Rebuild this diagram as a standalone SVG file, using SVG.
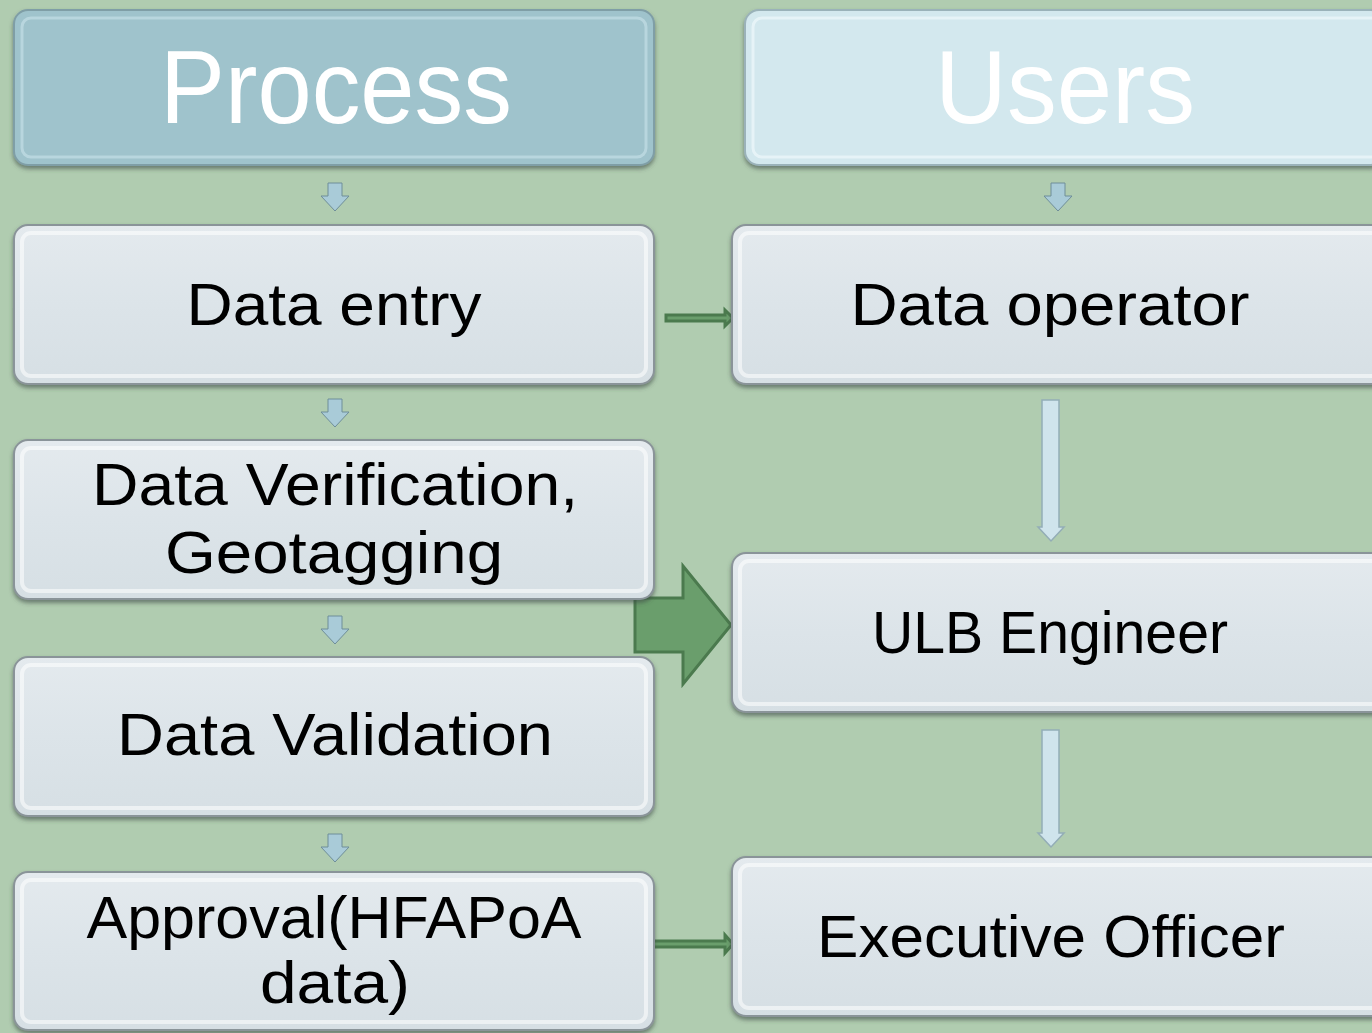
<svg xmlns="http://www.w3.org/2000/svg" width="1372" height="1033" viewBox="0 0 1372 1033">
<defs>
<style>
.box{fill:url(#gBox);stroke:#8a9499;stroke-width:2;filter:url(#sh)}
.inner{fill:none;stroke:#ffffff;stroke-width:4;opacity:0.55}
.t{font-family:"Century Gothic","URW Gothic","Liberation Sans",Arial,sans-serif;fill:#000;text-anchor:middle;font-size:60px}
.h{font-family:"Century Gothic","URW Gothic","Liberation Sans",Arial,sans-serif;fill:#fff;text-anchor:middle;font-size:104px}
.sa{fill:#a9cbd8;stroke:#6f8e99;stroke-width:1}
.la{fill:#cfe4ec;stroke:#93adb6;stroke-width:1.5}
.ga{fill:#6a9e6c;stroke:#4b7a4e;stroke-width:3}
</style>
<linearGradient id="gBox" x1="0" y1="0" x2="0" y2="1">
<stop offset="0" stop-color="#e4eaee"/>
<stop offset="0.5" stop-color="#dce4e9"/>
<stop offset="1" stop-color="#d6dfe4"/>
</linearGradient>
<filter id="sh" x="-5%" y="-10%" width="110%" height="125%">
<feDropShadow dx="0" dy="3" stdDeviation="2" flood-color="#3d4a45" flood-opacity="0.6"/>
</filter>
</defs>
<rect width="1372" height="1033" fill="#b0ccb0"/>

<g id="connectors">
<path class="sa" d="M328,183 h14 v13 h7 l-14,15 l-14,-15 h7 z"/>
<path class="sa" d="M328,399 h14 v13 h7 l-14,15 l-14,-15 h7 z"/>
<path class="sa" d="M328,616 h14 v13 h7 l-14,15 l-14,-15 h7 z"/>
<path class="sa" d="M328,834 h14 v13 h7 l-14,15 l-14,-15 h7 z"/>
<path class="sa" d="M1051,183 h14 v13 h7 l-14,15 l-14,-15 h7 z"/>
<path class="la" d="M1042,400 h17 v127 h5 l-13,14 l-13,-14 h4 z"/>
<path class="la" d="M1042,730 h17 v103 h5 l-13,14 l-13,-14 h4 z"/>
<path class="ga" d="M666,315 h59 v-5 l8,8 l-8,8 v-5 h-59 z" stroke-width="2"/>
<path class="ga" d="M651,941 h74 v-6 l8,9 l-8,9 v-6 h-74 z" stroke-width="2"/>
<path class="ga" d="M635,598 h48 v-32 l48,59 l-48,59 v-32 h-48 z"/>
</g>

<g id="process-header">
<rect x="14" y="10" width="640" height="155" rx="14" fill="#9fc3cc" stroke="#7f9ea6" stroke-width="2" filter="url(#sh)"/>
<rect x="22" y="18" width="624" height="139" rx="9" fill="none" stroke="#c9e2e9" stroke-width="3" opacity="0.6"/>
<text class="h" x="336" y="123" textLength="352" lengthAdjust="spacingAndGlyphs">Process</text>
</g>

<g id="users-header">
<rect x="745" y="10" width="640" height="155" rx="14" fill="#d3e8ee" stroke="#9ab2b9" stroke-width="2" filter="url(#sh)"/>
<rect x="753" y="18" width="640" height="139" rx="9" fill="none" stroke="#eef8fb" stroke-width="3" opacity="0.7"/>
<text class="h" x="1065" y="123" textLength="260" lengthAdjust="spacingAndGlyphs">Users</text>
</g>

<g id="data-entry">
<rect class="box" x="14" y="225" width="640" height="159" rx="14"/>
<rect class="inner" x="22" y="233" width="624" height="143" rx="9"/>
<text class="t" x="334" y="325" textLength="295" lengthAdjust="spacingAndGlyphs">Data entry</text>
</g>

<g id="data-verification">
<rect class="box" x="14" y="440" width="640" height="159" rx="14"/>
<rect class="inner" x="22" y="448" width="624" height="143" rx="9"/>
<text class="t" x="335" y="505" textLength="486" lengthAdjust="spacingAndGlyphs">Data Verification,</text>
<text class="t" x="334" y="573" textLength="338" lengthAdjust="spacingAndGlyphs">Geotagging</text>
</g>

<g id="data-validation">
<rect class="box" x="14" y="657" width="640" height="159" rx="14"/>
<rect class="inner" x="22" y="665" width="624" height="143" rx="9"/>
<text class="t" x="335" y="755" textLength="436" lengthAdjust="spacingAndGlyphs">Data Validation</text>
</g>

<g id="approval">
<rect class="box" x="14" y="872" width="640" height="158" rx="14"/>
<rect class="inner" x="22" y="880" width="624" height="142" rx="9"/>
<text class="t" x="334" y="938" textLength="495" lengthAdjust="spacingAndGlyphs">Approval(HFAPoA</text>
<text class="t" x="335" y="1003" textLength="150" lengthAdjust="spacingAndGlyphs">data)</text>
</g>

<g id="data-operator">
<rect class="box" x="732" y="225" width="660" height="159" rx="14"/>
<rect class="inner" x="740" y="233" width="644" height="143" rx="9"/>
<text class="t" x="1050" y="325" textLength="399" lengthAdjust="spacingAndGlyphs">Data operator</text>
</g>

<g id="ulb-engineer">
<rect class="box" x="732" y="553" width="660" height="159" rx="14"/>
<rect class="inner" x="740" y="561" width="644" height="143" rx="9"/>
<text class="t" x="1050" y="653" textLength="356" lengthAdjust="spacingAndGlyphs">ULB Engineer</text>
</g>

<g id="executive-officer">
<rect class="box" x="732" y="857" width="660" height="159" rx="14"/>
<rect class="inner" x="740" y="865" width="644" height="143" rx="9"/>
<text class="t" x="1051" y="957" textLength="468" lengthAdjust="spacingAndGlyphs">Executive Officer</text>
</g>
</svg>
